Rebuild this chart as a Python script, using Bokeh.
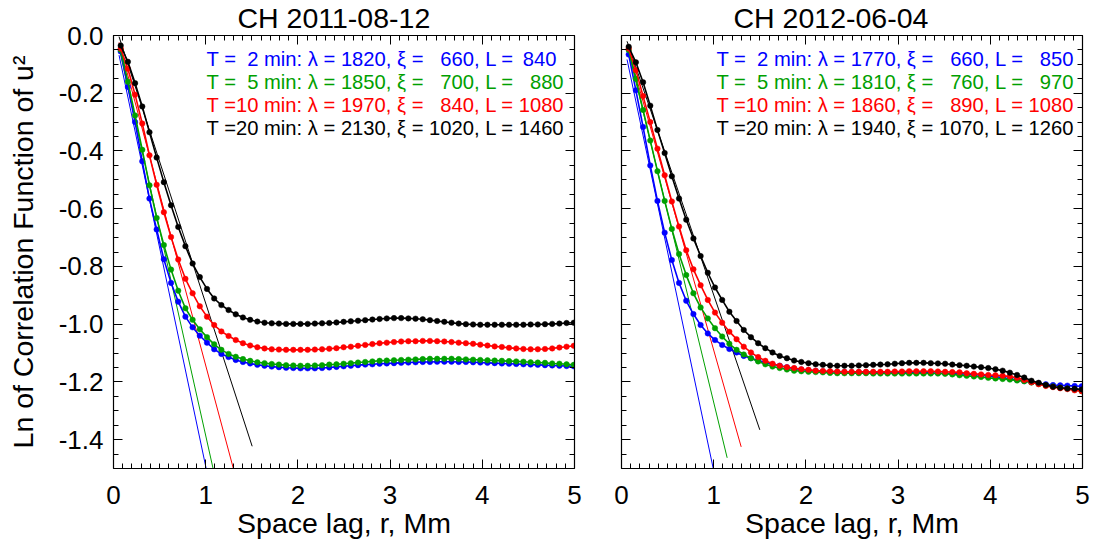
from bokeh.plotting import figure
from bokeh.layouts import row
from bokeh.models import (LinearAxis, SingleIntervalTicker, PrintfTickFormatter,
                          ColumnDataSource, Range1d)
from bokeh.core.properties import value
from bokeh.embed import file_html
from bokeh.resources import INLINE

FONT = "Liberation Sans"

# ---------------- data ----------------
r_lag = [0.078, 0.156, 0.234, 0.312, 0.39, 0.468, 0.546, 0.624, 0.702, 0.78,
         0.858, 0.936, 1.014, 1.092, 1.17, 1.248, 1.326, 1.404, 1.482, 1.56,
         1.638, 1.716, 1.794, 1.872, 1.95, 2.028, 2.106, 2.184, 2.262, 2.34,
         2.418, 2.496, 2.574, 2.652, 2.73, 2.808, 2.886, 2.964, 3.042, 3.12,
         3.198, 3.276, 3.354, 3.432, 3.51, 3.588, 3.666, 3.744, 3.822, 3.9,
         3.978, 4.056, 4.134, 4.212, 4.29, 4.368, 4.446, 4.524, 4.602, 4.68,
         4.758, 4.836, 4.914, 4.992]

series_names = ["T=2", "T=5", "T=10", "T=20"]
series_colors = ["#0000ff", "#00a000", "#ff0000", "#000000"]

FS = "\u2007"  # figure space (digit width)

# CH 2011-08-12
legend_1 = ["T =" + FS + "2 min: \u03bb = 1820, \u03be = " + FS + "660, L = \u2009840",
            "T =" + FS + "5 min: \u03bb = 1850, \u03be = " + FS + "700, L = " + FS + "880",
            "T =10 min: \u03bb = 1970, \u03be = " + FS + "840, L = 1080",
            "T =20 min: \u03bb = 2130, \u03be = 1020, L = 1460"]

c1_T2 = [-0.055, -0.178, -0.300, -0.436, -0.565, -0.672, -0.775, -0.857, -0.922, -0.974,
         -1.011, -1.040, -1.064, -1.087, -1.103, -1.114, -1.124, -1.131, -1.136, -1.141,
         -1.144, -1.147, -1.149, -1.151, -1.152, -1.153, -1.153, -1.153, -1.152, -1.150,
         -1.148, -1.146, -1.144, -1.142, -1.140, -1.139, -1.137, -1.136, -1.135, -1.134,
         -1.133, -1.132, -1.131, -1.131, -1.130, -1.130, -1.130, -1.131, -1.131, -1.132,
         -1.133, -1.134, -1.135, -1.136, -1.137, -1.138, -1.139, -1.140, -1.141, -1.142,
         -1.143, -1.144, -1.145, -1.146]
c1_T5 = [-0.050, -0.160, -0.277, -0.396, -0.519, -0.632, -0.726, -0.811, -0.884, -0.945,
         -0.985, -1.018, -1.045, -1.070, -1.089, -1.103, -1.113, -1.121, -1.127, -1.132,
         -1.135, -1.138, -1.140, -1.142, -1.143, -1.144, -1.144, -1.143, -1.142, -1.140,
         -1.139, -1.137, -1.135, -1.133, -1.131, -1.129, -1.127, -1.126, -1.125, -1.124,
         -1.123, -1.122, -1.121, -1.120, -1.120, -1.120, -1.120, -1.121, -1.122, -1.123,
         -1.124, -1.125, -1.126, -1.127, -1.128, -1.129, -1.130, -1.132, -1.133, -1.134,
         -1.136, -1.137, -1.139, -1.141]
c1_T10 = [-0.045, -0.115, -0.205, -0.305, -0.415, -0.517, -0.612, -0.698, -0.776, -0.843,
          -0.893, -0.938, -0.974, -1.003, -1.025, -1.041, -1.055, -1.066, -1.074, -1.080,
          -1.084, -1.087, -1.088, -1.089, -1.089, -1.089, -1.089, -1.088, -1.087, -1.085,
          -1.083, -1.080, -1.078, -1.075, -1.072, -1.069, -1.066, -1.064, -1.062, -1.060,
          -1.059, -1.059, -1.058, -1.058, -1.059, -1.060, -1.062, -1.064, -1.066, -1.068,
          -1.071, -1.074, -1.077, -1.079, -1.082, -1.084, -1.086, -1.087, -1.087, -1.086,
          -1.084, -1.081, -1.078, -1.075]
c1_T20 = [-0.035, -0.091, -0.165, -0.246, -0.335, -0.423, -0.508, -0.588, -0.663, -0.730,
          -0.790, -0.837, -0.878, -0.911, -0.934, -0.951, -0.966, -0.977, -0.985, -0.991,
          -0.995, -0.997, -0.998, -0.999, -0.999, -0.999, -0.999, -0.998, -0.997, -0.996,
          -0.994, -0.992, -0.990, -0.988, -0.986, -0.984, -0.982, -0.980, -0.979, -0.979,
          -0.980, -0.981, -0.983, -0.986, -0.989, -0.992, -0.995, -0.998, -1.000, -1.001,
          -1.002, -1.002, -1.002, -1.002, -1.002, -1.002, -1.002, -1.001, -1.001, -1.000,
          -0.999, -0.998, -0.996, -0.995]

# straight-line fits (start, end)
fit1_x = [[0.06, 1.005], [0.06, 1.08], [0.06, 1.30], [0.06, 1.504]]
fit1_y = [[-0.068, -1.50], [-0.043, -1.50], [-0.024, -1.50], [-0.004, -1.423]]

# CH 2012-06-04
legend_2 = ["T =" + FS + "2 min: \u03bb = 1770, \u03be = " + FS + "660, L = " + FS + "850",
            "T =" + FS + "5 min: \u03bb = 1810, \u03be = " + FS + "760, L = " + FS + "970",
            "T =10 min: \u03bb = 1860, \u03be = " + FS + "890, L = 1080",
            "T =20 min: \u03bb = 1940, \u03be = 1070, L = 1260"]

c2_T2 = [-0.066, -0.190, -0.317, -0.450, -0.573, -0.683, -0.778, -0.857, -0.919, -0.965,
         -1.003, -1.032, -1.055, -1.072, -1.086, -1.098, -1.110, -1.118, -1.126, -1.133,
         -1.139, -1.144, -1.149, -1.154, -1.157, -1.160, -1.162, -1.164, -1.165, -1.166,
         -1.166, -1.167, -1.167, -1.167, -1.168, -1.168, -1.168, -1.168, -1.168, -1.168,
         -1.168, -1.168, -1.169, -1.169, -1.170, -1.171, -1.172, -1.173, -1.175, -1.177,
         -1.179, -1.182, -1.185, -1.189, -1.193, -1.197, -1.201, -1.205, -1.208, -1.211,
         -1.212, -1.213, -1.214, -1.215]
c2_T5 = [-0.050, -0.150, -0.258, -0.364, -0.470, -0.573, -0.670, -0.757, -0.830, -0.893,
         -0.942, -0.980, -1.014, -1.043, -1.068, -1.089, -1.105, -1.118, -1.129, -1.139,
         -1.147, -1.152, -1.157, -1.161, -1.163, -1.165, -1.166, -1.167, -1.169, -1.170,
         -1.170, -1.170, -1.170, -1.170, -1.171, -1.171, -1.171, -1.171, -1.171, -1.171,
         -1.171, -1.171, -1.171, -1.171, -1.172, -1.174, -1.177, -1.179, -1.181, -1.183,
         -1.186, -1.188, -1.190, -1.192, -1.195, -1.198, -1.202, -1.207, -1.212, -1.216,
         -1.220, -1.223, -1.227, -1.232]
c2_T10 = [-0.045, -0.120, -0.210, -0.300, -0.392, -0.484, -0.575, -0.662, -0.744, -0.810,
          -0.865, -0.916, -0.960, -0.995, -1.026, -1.052, -1.078, -1.098, -1.114, -1.127,
          -1.137, -1.144, -1.149, -1.152, -1.156, -1.158, -1.161, -1.162, -1.163, -1.164,
          -1.165, -1.165, -1.165, -1.165, -1.165, -1.165, -1.165, -1.164, -1.164, -1.163,
          -1.163, -1.163, -1.163, -1.164, -1.165, -1.166, -1.167, -1.170, -1.172, -1.174,
          -1.176, -1.177, -1.179, -1.181, -1.186, -1.193, -1.201, -1.208, -1.214, -1.218,
          -1.222, -1.225, -1.229, -1.232]
c2_T20 = [-0.039, -0.093, -0.162, -0.243, -0.327, -0.407, -0.488, -0.565, -0.638, -0.703,
          -0.764, -0.822, -0.873, -0.916, -0.957, -0.989, -1.020, -1.045, -1.066, -1.083,
          -1.098, -1.110, -1.118, -1.126, -1.131, -1.135, -1.139, -1.141, -1.143, -1.144,
          -1.144, -1.144, -1.143, -1.142, -1.141, -1.140, -1.139, -1.137, -1.135, -1.134,
          -1.134, -1.134, -1.135, -1.136, -1.137, -1.140, -1.142, -1.144, -1.147, -1.149,
          -1.152, -1.156, -1.161, -1.168, -1.176, -1.185, -1.196, -1.203, -1.211, -1.217,
          -1.220, -1.223, -1.224, -1.226]

fit2_x = [[0.06, 0.995], [0.06, 1.146], [0.06, 1.298], [0.06, 1.50]]
fit2_y = [[-0.083, -1.50], [-0.034, -1.463], [-0.033, -1.425], [-0.020, -1.366]]

x_ticks_major = 1.0
y_ticks_major = 0.2


def style_axis(ax, labels):
    ax.axis_line_color = "black"
    ax.axis_line_width = 1.2
    ax.major_tick_in = 9
    ax.major_tick_out = 0
    ax.minor_tick_in = 5
    ax.minor_tick_out = 0
    ax.major_tick_line_color = "black"
    ax.minor_tick_line_color = "black"
    ax.major_tick_line_width = 1
    ax.minor_tick_line_width = 1
    if labels:
        ax.major_label_text_font = FONT
        ax.major_label_text_font_size = "26px"
        ax.major_label_text_color = "black"
        ax.axis_label_text_font = FONT
        ax.axis_label_text_font_size = "28.5px"
        ax.axis_label_text_font_style = "normal"
        ax.axis_label_text_color = "black"
    else:
        ax.major_label_text_font_size = "1px"
        ax.major_label_text_color = None
        ax.major_label_standoff = 0


def make_panel(title, title_offset, curves, fx, fy, legend, text_x,
               width, min_left, min_right, show_y):
    p = figure(width=width, height=548, x_range=Range1d(0, 5), y_range=Range1d(-1.5, 0.0),
               x_axis_type=None, y_axis_type=None, output_backend="svg",
               toolbar_location=None, min_border_left=min_left, min_border_right=min_right,
               min_border_top=35, min_border_bottom=80)
    p.outline_line_color = None
    p.background_fill_color = "white"
    p.border_fill_color = "white"

    # axes
    xb = LinearAxis(ticker=SingleIntervalTicker(interval=x_ticks_major, num_minor_ticks=10))
    style_axis(xb, True)
    xb.axis_label = "Space lag, r, Mm"
    xb.major_label_standoff = 17
    xb.axis_label_standoff = 0
    p.add_layout(xb, "below")

    xa = LinearAxis(ticker=SingleIntervalTicker(interval=x_ticks_major, num_minor_ticks=10))
    style_axis(xa, False)
    p.add_layout(xa, "above")

    yl = LinearAxis(ticker=SingleIntervalTicker(interval=y_ticks_major, num_minor_ticks=4))
    if show_y:
        style_axis(yl, True)
        yl.formatter = PrintfTickFormatter(format="%.1f")
        yl.axis_label = "Ln of Correlation Function of u\u00b2"
        yl.major_label_standoff = 10
        yl.axis_label_standoff = 17
    else:
        style_axis(yl, False)
    p.add_layout(yl, "left")

    yr = LinearAxis(ticker=SingleIntervalTicker(interval=y_ticks_major, num_minor_ticks=4))
    style_axis(yr, False)
    p.add_layout(yr, "right")

    # straight-line fits
    for xs, ys, col in zip(fx, fy, series_colors):
        p.line(xs, ys, line_color=col, line_width=1)

    # correlation curves
    for ys, col in zip(curves, series_colors):
        p.line(r_lag, ys, line_color=col, line_width=1.6)
        p.scatter(r_lag, ys, size=5.5, fill_color=col, line_color=col, line_width=0.5)

    # annotation text
    ty = [-0.081 - 0.0795 * i for i in range(4)]
    src = ColumnDataSource(dict(x=[text_x] * 4, y=ty, text=legend, color=series_colors))
    p.text(x="x", y="y", text="text", text_color="color", source=src,
           text_font=value(FONT), text_font_size=value("20.2px"),
           text_baseline="middle", text_align="left")

    p.title.text = title
    p.title.text_font = FONT
    p.title.text_font_size = "28.5px"
    p.title.text_font_style = "normal"
    p.title.text_color = "black"
    p.title.align = "left"
    p.title.offset = title_offset
    p.title.standoff = 0
    p.title.vertical_align = "top"
    return p


p1 = make_panel("CH 2011-08-12", 124, [c1_T2, c1_T5, c1_T10, c1_T20], fit1_x, fit1_y,
                legend_1, 1.01, 598, 113, 24, True)
p2 = make_panel("CH 2012-06-04", 112, [c2_T2, c2_T5, c2_T10, c2_T20], fit2_x, fit2_y,
                legend_2, 1.03, 498, 23, 14, False)

layout = row(p1, p2)
open("out.html", "w").write(file_html(layout, INLINE))
